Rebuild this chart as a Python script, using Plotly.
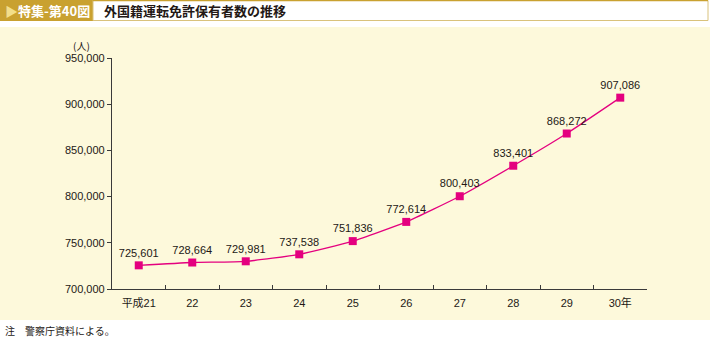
import plotly.graph_objects as go

# Data: number of foreign-national driver's licence holders by year
years = ["平成21", "22", "23", "24", "25", "26", "27", "28", "29", "30年"]
holders = [725601, 728664, 729981, 737538, 751836, 772614, 800403, 833401, 868272, 907086]
y_ticks = [700000, 750000, 800000, 850000, 900000, 950000]

W, H = 710, 337
L, R, T, B = 112, 647, 58, 289  # plot area in pixels

def px(x):
    return (x - L) / (R - L)

def py(y):
    return (B - y) / (B - T)

FONT = "Arial, 'Liberation Sans', 'Noto Sans CJK JP', sans-serif"
JP = "'Noto Sans CJK JP', sans-serif"
LINE = "#E4007F"
CREAM = "#FDF9DB"
GOLD = "#C9A130"
AXIS = "#3A3A3A"

fig = go.Figure()
fig.add_trace(go.Scatter(
    x=years, y=holders,
    mode="lines+markers+text",
    line=dict(color=LINE, width=1.3, shape="spline", smoothing=0.5),
    marker=dict(symbol="square", size=8, color=LINE),
    text=[f"{v:,}" for v in holders],
    textposition="top center",
    textfont=dict(family=FONT, size=11, color="#231815"),
    cliponaxis=False,
    hoverinfo="skip",
))

shapes = [
    # cream panel
    dict(type="rect", xref="paper", yref="paper", layer="below",
         x0=px(0), x1=px(W), y0=py(320), y1=py(27),
         fillcolor=CREAM, line=dict(width=0)),
    # header: gold label block
    dict(type="rect", xref="paper", yref="paper", layer="below",
         x0=px(0), x1=px(93), y0=py(21), y1=py(0),
         fillcolor=GOLD, line=dict(width=0)),
    # header: title box
    dict(type="rect", xref="paper", yref="paper", layer="below",
         x0=px(93), x1=px(708), y0=py(20.5), y1=py(0.5),
         fillcolor="white", line=dict(color="#D9C27C", width=1)),
    dict(type="line", xref="paper", yref="paper", layer="below",
         x0=px(93), x1=px(708), y0=py(0.5), y1=py(0.5),
         line=dict(color=GOLD, width=1.5)),
]

annotations = [
    dict(text="<b><span style='color:#F2DE8A'>▶</span>特集-第40図</b>",
         xref="paper", yref="paper", x=px(3), y=py(11),
         xanchor="left", yanchor="middle", showarrow=False,
         font=dict(family=JP, size=13, color="white")),
    dict(text="<b>外国籍運転免許保有者数の推移</b>",
         xref="paper", yref="paper", x=px(102), y=py(11),
         xanchor="left", yanchor="middle", showarrow=False,
         font=dict(family=JP, size=13, color="#231815")),
    dict(text="(人)", xref="paper", yref="paper", x=px(81), y=py(45),
         xanchor="center", yanchor="middle", showarrow=False,
         font=dict(family=JP, size=10, color="#231815")),
    dict(text="注　警察庁資料による。", xref="paper", yref="paper",
         x=px(3), y=py(330), xanchor="left", yanchor="middle", showarrow=False,
         font=dict(family=JP, size=10, color="#231815")),
]

fig.update_layout(
    width=W, height=H,
    margin=dict(l=L, r=W - R, t=T, b=H - B, pad=0),
    paper_bgcolor="white",
    plot_bgcolor="rgba(0,0,0,0)",
    showlegend=False,
    shapes=shapes,
    annotations=annotations,
    font=dict(family=FONT, size=11, color="#231815"),
    xaxis=dict(
        type="category", range=[-0.5, 9.5],
        tickson="boundaries", ticks="inside", ticklen=4, tickcolor=AXIS,
        showline=True, linecolor=AXIS, linewidth=1.2,
        showgrid=False, zeroline=False, fixedrange=True,
        ticklabelstandoff=4,
        tickfont=dict(family=FONT, size=11, color="#231815"),
    ),
    yaxis=dict(
        range=[700000, 950000], tickvals=y_ticks, tickformat=",",
        ticks="outside", ticklen=4, tickcolor=AXIS,
        showline=True, linecolor=AXIS, linewidth=1.2,
        showgrid=False, zeroline=False, fixedrange=True,
        tickfont=dict(family=FONT, size=11, color="#231815"),
    ),
)

fig.write_html("out.html", config={"displayModeBar": False})
